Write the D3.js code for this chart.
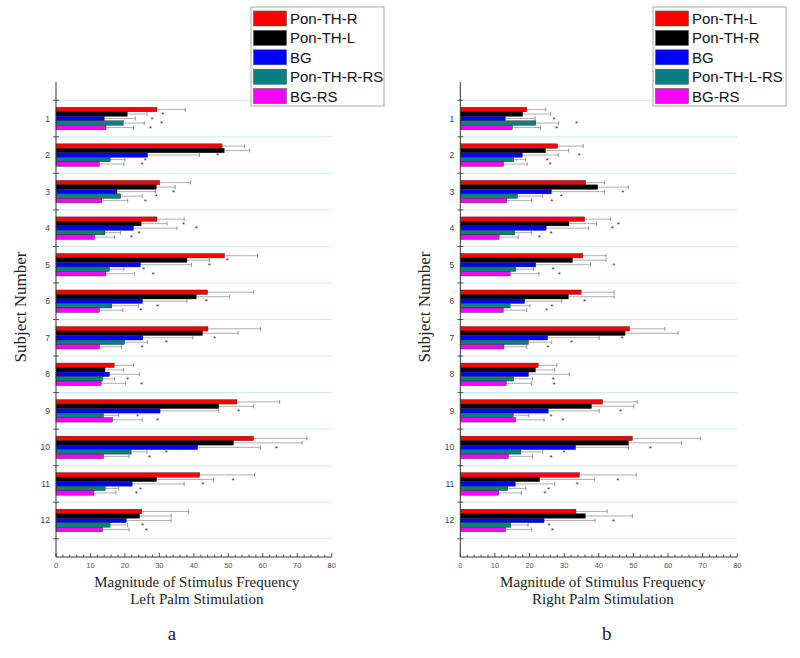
<!DOCTYPE html>
<html><head><meta charset="utf-8">
<script src="https://cdn.jsdelivr.net/npm/d3@7"></script>
<style>body{margin:0;background:#fff}
.serif{font-family:"Liberation Serif","Times New Roman",Times,serif}
.sans{font-family:"Liberation Sans",Arial,Helvetica,sans-serif}
</style>
</head><body>
<svg id="c" width="800" height="658"></svg>
<script>
const subjects = [1,2,3,4,5,6,7,8,9,10,11,12];
const xTicks = [0,10,20,30,40,50,60,70,80];
const colors = ["#ff0000","#000000","#0000ff","#0b7f7f","#ff00ff"];
const namesA = ["Pon-TH-R","Pon-TH-L","BG","Pon-TH-R-RS","BG-RS"];
const namesB = ["Pon-TH-L","Pon-TH-R","BG","Pon-TH-L-RS","BG-RS"];

// Panel a: means (bar ends)
const aS1 = [29.3,48.2,30.1,29.3,48.9,44.0,44.1,16.9,52.5,57.3,41.7,24.9];
const aS2 = [20.7,48.8,29.1,24.7,38.0,40.7,42.5,14.2,47.2,51.5,29.2,24.3];
const aS3 = [14.0,26.6,17.7,22.5,24.5,25.1,25.2,15.5,30.2,41.1,22.1,20.4];
const aS4 = [19.5,15.7,18.8,14.2,15.5,16.2,19.9,13.5,13.8,21.8,14.3,15.7];
const aS5 = [14.5,12.6,13.3,11.2,14.5,12.6,12.6,13.1,16.4,13.8,11.0,13.5];
// Panel a: error bar ends
const aE1 = [37.5,54.7,39.0,37.2,58.5,57.4,59.3,22.5,64.9,72.8,57.6,38.5];
const aE2 = [26.4,56.2,34.6,32.2,44.5,50.4,52.8,19.6,57.4,71.4,45.7,33.4];
const aE3 = [23.0,41.6,28.8,35.1,39.3,38.0,39.7,24.2,47.2,59.3,37.2,33.4];
const aE4 = [25.6,20.0,25.0,18.7,19.7,24.0,26.5,17.0,18.2,26.4,18.2,20.8];
const aE5 = [22.5,19.7,20.8,17.0,22.8,19.4,19.0,20.2,25.0,21.2,17.4,21.2];
// Panel a: asterisk positions (null = none)
const aK2 = [31.0,null,null,37.0,49.7,null,null,null,null,null,51.4,null];
const aK3 = [27.9,46.9,34.1,40.7,44.5,43.6,46.0,null,53.0,63.9,42.6,null];
const aK4 = [30.6,25.9,29.1,24.1,25.4,29.5,32.0,20.8,23.7,32.0,24.5,25.1];
const aK5 = [27.4,24.95,25.9,21.9,28.2,24.6,25.0,24.8,29.5,27.1,23.3,26.2];

// Panel b: means
const bS1 = [19.2,28.1,36.2,35.9,35.4,34.9,48.9,22.5,41.1,49.7,34.4,33.4];
const bS2 = [18.0,24.6,39.7,31.4,32.4,31.2,47.6,21.7,37.9,48.6,22.9,36.1];
const bS3 = [13.0,17.9,26.3,24.8,21.8,18.6,25.2,19.7,25.4,33.3,15.9,24.2];
const bS4 = [21.8,15.4,16.5,15.7,16.0,14.4,19.7,15.4,15.3,17.5,13.7,14.6];
const bS5 = [15.0,12.5,13.4,11.2,14.4,12.4,12.6,13.3,16.0,13.9,11.1,13.1];
// Panel b: error bar ends
const bE1 = [24.7,35.5,41.6,43.4,42.1,44.4,59.1,27.9,51.1,69.3,50.8,42.4];
const bE2 = [26.1,31.3,48.5,39.3,42.1,44.4,62.9,27.3,50.1,63.9,38.8,49.7];
const bE3 = [21.6,28.3,41.6,37.0,37.6,29.3,40.1,31.5,40.1,48.6,27.3,38.9];
const bE4 = [28.4,18.9,23.7,20.5,21.1,20.1,26.4,20.9,19.8,23.8,18.9,19.6];
const bE5 = [23.2,19.3,20.6,16.7,22.7,19.2,19.2,20.6,24.2,20.8,17.6,20.6];
// Panel b: asterisks
const bK2 = [null,null,null,45.6,null,null,null,null,null,null,45.5,null];
const bK3 = [27.1,34.3,46.9,43.9,44.3,35.9,46.7,null,46.3,54.9,33.7,44.2];
const bK4 = [33.6,25.1,29.2,26.2,26.8,26.4,32.1,26.8,26.2,30.0,25.5,25.6];
const bK5 = [27.8,25.9,26.4,22.9,28.6,24.9,25.3,27.1,29.6,26.2,24.4,26.6];

const svg = d3.select("#c");
const y = d3.scaleLinear().domain([0,13]).range([82,557]);

function panel(x0, x1, means, errs, stars, names, xlab2, letter, legX, labShift, letShift) {
  const x = d3.scaleLinear().domain([0,80]).range([x0,x1]);
  const g = svg.append("g");
  const bounds = d3.range(0.5, 13, 1);
  g.selectAll("line.grid").data(bounds).join("line")
    .attr("x1", x(0)).attr("x2", x(80))
    .attr("y1", d=>y(d)).attr("y2", d=>y(d))
    .attr("stroke","#c6eef6").attr("stroke-width",1);
  const nS = means.length;
  const bh = 4.5;
  const groupH = bh*nS;
  means.forEach((arr, si) => {
    const top = s => y(s) - groupH/2 + si*bh;
    g.selectAll(null).data(subjects).join("line")
      .attr("x1", (d,i)=>x(arr[i])).attr("x2",(d,i)=>x(errs[si][i]))
      .attr("y1", d=>top(d)+bh/2).attr("y2", d=>top(d)+bh/2)
      .attr("stroke","#9a9a9a").attr("stroke-width",0.8);
    g.selectAll(null).data(subjects).join("line")
      .attr("x1", (d,i)=>x(errs[si][i])).attr("x2",(d,i)=>x(errs[si][i]))
      .attr("y1", d=>top(d)+0.3).attr("y2", d=>top(d)+bh-0.3)
      .attr("stroke","#7a7a7a").attr("stroke-width",0.8);
    g.selectAll(null).data(subjects).join("rect")
      .attr("x", x(0)).attr("y", d=>top(d))
      .attr("width",(d,i)=>x(arr[i])-x(0)).attr("height",bh)
      .attr("fill",colors[si]).attr("stroke","#222").attr("stroke-width",0.4);
    if (stars[si]) {
      g.selectAll(null).data(subjects.filter((d,i)=>stars[si][i]!=null)).join("text")
        .attr("class","sans")
        .attr("x", d=>x(stars[si][d-1])).attr("y", d=>top(d)+bh/2+3.2)
        .attr("text-anchor","middle").attr("font-size",8)
        .attr("fill","#333").text("*");
    }
  });
  g.append("line").attr("x1",x(0)).attr("x2",x(0)).attr("y1",y(0)).attr("y2",y(13))
    .attr("stroke","#333").attr("stroke-width",1);
  g.selectAll(null).data(bounds).join("line")
    .attr("x1",x(0)-3).attr("x2",x(0)+3).attr("y1",d=>y(d)).attr("y2",d=>y(d))
    .attr("stroke","#333").attr("stroke-width",0.8);
  g.selectAll(null).data(subjects).join("text").attr("class","sans")
    .attr("x",x(0)-6).attr("y",d=>y(d)+3).attr("text-anchor","end")
    .attr("font-size",8.5).attr("fill","#444").text(d=>d);
  g.append("line").attr("x1",x(0)).attr("x2",x(80)).attr("y1",y(13)).attr("y2",y(13))
    .attr("stroke","#333").attr("stroke-width",1);
  g.selectAll(null).data(d3.range(0,81,2)).join("line")
    .attr("x1",d=>x(d)).attr("x2",d=>x(d)).attr("y1",y(13))
    .attr("y2",d=>y(13)-(d%10===0?4:2.5))
    .attr("stroke","#333").attr("stroke-width",0.8);
  g.selectAll(null).data(xTicks).join("text").attr("class","sans")
    .attr("x",d=>x(d)).attr("y",y(13)+11).attr("text-anchor","middle")
    .attr("font-size",7.5).attr("fill","#555").text(d=>d);
  const cx = (x0+x1)/2 + labShift;
  g.append("text").attr("class","serif").attr("x",cx).attr("y",587).attr("text-anchor","middle")
    .attr("font-size",15).attr("fill","#222")
    .text("Magnitude of Stimulus Frequency");
  g.append("text").attr("class","serif").attr("x",cx).attr("y",604).attr("text-anchor","middle")
    .attr("font-size",15).attr("fill","#222").text(xlab2);
  g.append("text").attr("class","serif").attr("x",(x0+x1)/2 + letShift).attr("y",640).attr("text-anchor","middle")
    .attr("font-size",19).attr("fill","#222").text(letter);
  g.append("text").attr("class","serif").attr("transform",`translate(${x0-30},${307}) rotate(-90)`)
    .attr("text-anchor","middle").attr("font-size",17)
    .attr("fill","#222").text("Subject Number");
  const lg = svg.append("g").attr("transform",`translate(${legX},7)`);
  lg.append("rect").attr("x",0).attr("y",0).attr("width",133).attr("height",99)
    .attr("fill","#fff").attr("stroke","#aaa").attr("stroke-width",1);
  names.forEach((n,i)=>{
    lg.append("rect").attr("x",2.5).attr("y",4+i*19.4).attr("width",33).attr("height",15)
      .attr("fill",colors[i]).attr("stroke","#555").attr("stroke-width",0.6);
    lg.append("text").attr("class","sans").attr("x",39).attr("y",17+i*19.4)
      .attr("font-size",15).attr("fill","#111").text(n);
  });
}

panel(56, 331.7, [aS1,aS2,aS3,aS4,aS5], [aE1,aE2,aE3,aE4,aE5], [null,aK2,aK3,aK4,aK5], namesA, "Left Palm Stimulation", "a", 251, 3, -22);
panel(460.3, 737.3, [bS1,bS2,bS3,bS4,bS5], [bE1,bE2,bE3,bE4,bE5], [null,bK2,bK3,bK4,bK5], namesB, "Right Palm Stimulation", "b", 653, 4, 8);
</script>
</body></html>
